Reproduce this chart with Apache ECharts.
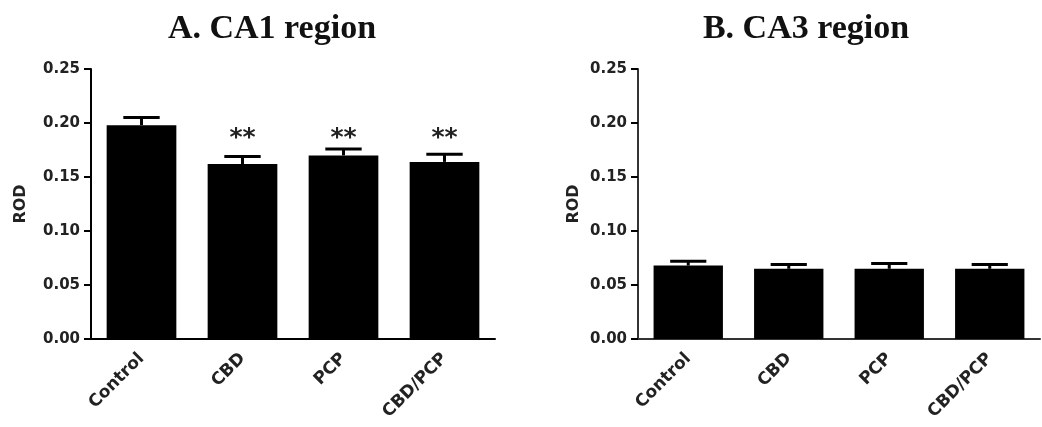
<!DOCTYPE html>
<html>
<head>
<meta charset="utf-8">
<script src="https://cdn.jsdelivr.net/npm/echarts@6/dist/echarts.min.js"></script>
<style>
  html, body { margin: 0; padding: 0; background: #fff; }
  #chart { width: 1042px; height: 427px; }
</style>
</head>
<body>
<div id="chart"></div>
<script>
// Group labels shared by both panels
const categories = ['Control', 'CBD', 'PCP', 'CBD/PCP'];

// CA1 region: mean relative optical density and SEM
const ca1Mean = [0.198, 0.162, 0.170, 0.164];
const ca1Sem = [0.007, 0.007, 0.006, 0.007];
const ca1Sig = ['', '**', '**', '**'];

// CA3 region: mean relative optical density and SEM
const ca3Mean = [0.068, 0.065, 0.065, 0.065];
const ca3Sem = [0.004, 0.004, 0.005, 0.004];

// Y axis ticks
const yTicks = [0, 0.05, 0.10, 0.15, 0.20, 0.25];

const titles = ['A. CA1 region', 'B. CA3 region'];

const axisFont = 'DejaVu Sans';
const grids = [
  { left: 91, right: 547, top: 69, bottom: 88 },
  { left: 638, right: 2, top: 69, bottom: 88 }
];

function errorBarData(mean, sem) {
  return mean.map((m, i) => [i, m, m + sem[i]]);
}

function renderErrorBar(params, api) {
  const idx = api.value(0);
  const top = api.coord([idx, api.value(1)]);
  const hi = api.coord([idx, api.value(2)]);
  const capHalf = api.size([1, 0])[0] * 0.18;
  const style = { stroke: '#000', lineWidth: 3 };
  return {
    type: 'group',
    children: [
      { type: 'line', shape: { x1: top[0], y1: top[1], x2: hi[0], y2: hi[1] }, style },
      { type: 'line', shape: { x1: hi[0] - capHalf, y1: hi[1], x2: hi[0] + capHalf, y2: hi[1] }, style }
    ]
  };
}

// Significance marks sit on a common line above the tallest marked error bar
const sigTop = Math.max(...ca1Mean.map((m, i) => ca1Sig[i] ? m + ca1Sem[i] : 0));
const sigData = ca1Sig.map((s, i) => [i, sigTop, s]).filter(d => d[2]);

function renderSig(params, api) {
  const p = api.coord([api.value(0), api.value(1)]);
  return {
    type: 'text',
    x: p[0],
    y: p[1] + 2,
    style: {
      text: sigData[params.dataIndex][2],
      fill: '#222',
      font: 'bold 25px "DejaVu Sans"',
      align: 'center',
      verticalAlign: 'bottom'
    }
  };
}

const xAxes = grids.map((g, gi) => ({
  type: 'category',
  gridIndex: gi,
  data: categories,
  axisLine: { lineStyle: { color: gi === 0 ? '#000' : '#333', width: 2 } },
  axisTick: { alignWithLabel: true, length: 6, lineStyle: { color: '#000', width: 2 } },
  axisLabel: {
    rotate: 45,
    interval: 0,
    margin: 17,
    fontFamily: axisFont,
    fontWeight: 'bold',
    fontSize: 17,
    color: '#222'
  }
}));

const yAxes = grids.map((g, gi) => ({
  type: 'value',
  gridIndex: gi,
  min: 0,
  max: 0.25,
  interval: 0.05,
  name: 'ROD',
  nameLocation: 'middle',
  nameGap: gi === 0 ? 62 : 56,
  nameRotate: 90,
  nameTextStyle: { fontFamily: axisFont, fontWeight: 'bold', fontSize: 16, color: '#222' },
  splitLine: { show: false },
  axisLine: { show: true, lineStyle: { color: gi === 0 ? '#000' : '#333', width: 2 } },
  axisTick: { show: true, length: 7, lineStyle: { color: '#000', width: 2 } },
  axisLabel: {
    margin: 11,
    fontFamily: axisFont,
    fontWeight: 'bold',
    fontSize: 15,
    color: '#222',
    formatter: v => yTicks.includes(Math.round(v * 100) / 100) ? v.toFixed(2) : ''
  }
}));

const option = {
  backgroundColor: '#fff',
  animation: false,
  title: titles.map((t, i) => ({
    text: t,
    left: i === 0 ? 267 : 801,
    top: 7,
    textAlign: 'center',
    textStyle: { fontFamily: 'Liberation Serif', fontWeight: 'bold', fontSize: 34, color: '#111' }
  })),
  grid: grids,
  xAxis: xAxes,
  yAxis: yAxes,
  series: [
    { type: 'bar', xAxisIndex: 0, yAxisIndex: 0, data: ca1Mean, barWidth: '69%', itemStyle: { color: '#000' } },
    { type: 'custom', xAxisIndex: 0, yAxisIndex: 0, data: errorBarData(ca1Mean, ca1Sem), renderItem: renderErrorBar, z: 3 },
    { type: 'custom', xAxisIndex: 0, yAxisIndex: 0, data: sigData, renderItem: renderSig, z: 4 },
    { type: 'bar', xAxisIndex: 1, yAxisIndex: 1, data: ca3Mean, barWidth: '69%', itemStyle: { color: '#000' } },
    { type: 'custom', xAxisIndex: 1, yAxisIndex: 1, data: errorBarData(ca3Mean, ca3Sem), renderItem: renderErrorBar, z: 3 }
  ]
};

const chart = echarts.init(document.getElementById('chart'), null, { renderer: 'canvas' });
chart.setOption(option);
</script>
</body>
</html>
